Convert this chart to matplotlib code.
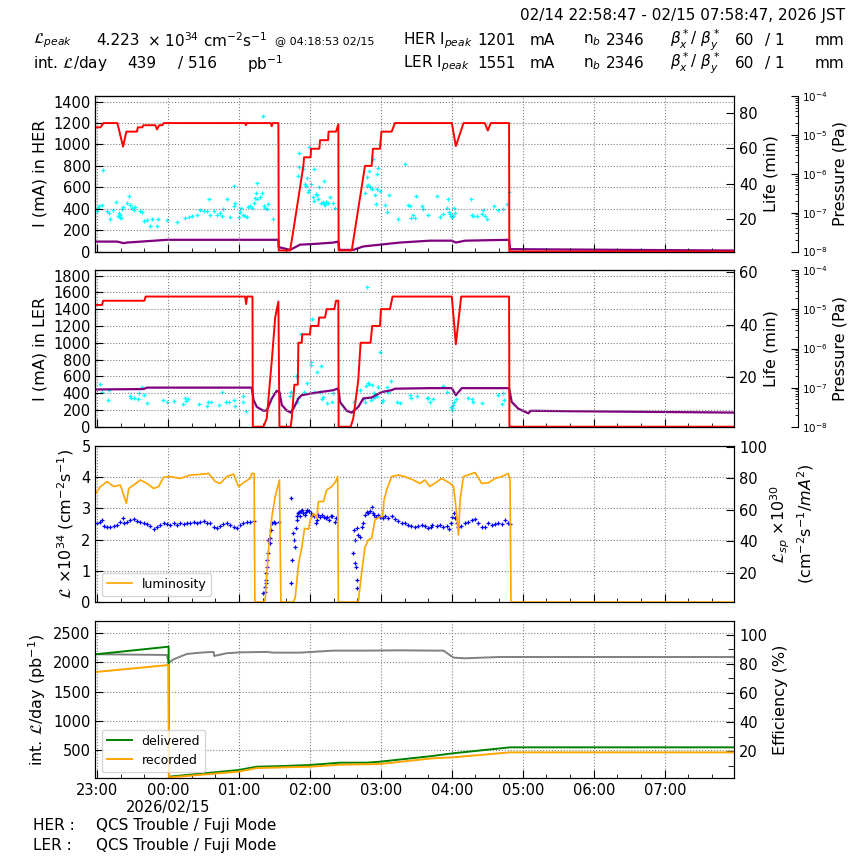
import numpy as np
import matplotlib
matplotlib.use("Agg")
import matplotlib.pyplot as plt
import matplotlib.dates as mdates
from matplotlib.ticker import FuncFormatter, MultipleLocator, LogLocator, NullFormatter

# ============================================================
#   DATA  (time = minutes after 2026-02-14 23:00 JST)
# ============================================================
# HER beam current (mA)
her_t = [-1.2, 3.0, 5.5, 17.3, 22.1, 24.9, 33.9, 34.6, 38.4, 39.2,
         49.4, 50.8, 52.7, 55.3, 56.5, 125.3, 125.9, 126.6, 146.8, 147.8,
         148.5, 153.4, 153.7, 163.3, 166.1, 174.5, 175.1, 180.6, 181.0, 188.0,
         188.6, 195.4, 195.8, 202.1, 204.1, 204.3, 215.4, 218.1, 226.6, 232.2,
         233.3, 239.2, 240.5, 249.1, 251.9, 300.0, 303.4, 309.9, 327.9, 330.4,
         332.9, 348.4, 348.6, 538.8]
her_i = [1160, 1160, 1200, 1200, 980, 1120, 1120, 1160, 1160, 1180,
         1180, 1140, 1180, 1180, 1200, 1200, 1180, 1200, 1200, 1170,
         1200, 1200, 10, 10, 200, 800, 880, 880, 960, 960,
         1040, 1040, 1120, 1120, 1190, 10, 10, 200, 800, 800,
         960, 960, 1120, 1120, 1200, 1200, 985, 1200, 1200, 1130,
         1200, 1200, 0, 0]

# HER pressure (Pa)
her_p_t = [-1.2, 17.0, 22.6, 25.5, 59.2, 153.4, 153.6, 163.3, 171.7, 185.8,
           199.9, 204.1, 204.9, 216.7, 225.2, 239.3, 256.2, 281.5, 300.0, 303.4,
           311.2, 348.4, 349.2, 536.3, 538.8]
her_p = [1.8e-8, 1.8e-8, 1.64e-8, 1.7e-8, 2.0e-8, 2.0e-8, 1.3e-8, 1.1e-8, 1.5e-8, 1.58e-8,
         1.7e-8, 1.8e-8, 1.1e-8, 1.1e-8, 1.35e-8, 1.5e-8, 1.7e-8, 1.9e-8, 1.9e-8, 1.7e-8,
         1.9e-8, 2.0e-8, 1.15e-8, 1.06e-8, 1.06e-8]

# HER lifetime (min)
her_life_t = [0.1, 1.0, 1.8, 4.4, 4.9, 8.6, 10.0, 11.4, 13.6, 16.5,
              17.6, 18.4, 19.3, 19.8, 20.4, 21.2, 22.1, 25.5, 26.9, 28.3,
              29.7, 31.1, 32.5, 36.1, 38.1, 40.1, 42.3, 44.6, 46.6, 50.8,
              51.3, 59.2, 67.7, 74.7, 77.5, 80.3, 84.5, 87.3, 90.2, 93.0,
              94.4, 95.8, 98.6, 101.4, 104.2, 105.6, 107.0, 109.8, 112.1, 115.5,
              116.3, 116.9, 119.7, 121.1, 121.7, 123.9, 125.3, 126.7, 127.3, 129.5,
              130.9, 132.4, 133.8, 134.3, 135.2, 135.7, 138.0, 139.4, 140.2, 141.3,
              142.2, 143.6, 145.0, 148.7,
              169.8, 170.6, 171.2, 174.0, 176.0, 176.8, 177.7, 178.2, 179.6, 179.6,
              181.0, 182.4, 183.3, 183.9, 185.3, 186.1, 186.7, 188.1, 189.5, 190.9,
              191.8, 192.3, 193.2, 193.7, 195.1, 197.4, 199.3, 201.3,
              226.6, 228.0, 228.6, 229.4, 230.3, 230.8, 232.2, 233.6, 235.0, 235.9,
              236.5, 237.0, 237.9, 239.3, 243.5, 244.9, 247.1, 254.7, 260.3, 263.1,
              264.5, 265.1, 267.4, 268.8, 269.6, 274.4, 275.8, 280.0,
              287.3, 290.1, 292.9, 295.8, 296.6, 297.2, 298.6, 299.4, 300.5, 301.4,
              302.2, 302.8, 316.3, 316.9, 318.3, 321.1, 325.3, 326.7, 328.1, 329.5,
              336.0, 339.4, 343.6, 346.4, 348.4]
her_life = [24.3, 26.1, 27.4, 28.0, 47.6, 24.3, 23.1, 20.0, 24.9, 29.8,
            21.8, 23.1, 21.2, 22.5, 20.6, 25.5, 26.8, 29.2, 32.9, 28.0,
            26.1, 24.9, 26.8, 24.3, 23.7, 18.8, 19.4, 16.3, 20.0, 16.3,
            20.0, 19.4, 18.2, 20.6, 21.2, 21.8, 22.5, 24.9, 24.3, 24.3,
            31.0, 22.5, 24.3, 22.5, 23.1, 21.8, 25.5, 31.0, 21.2, 27.4,
            38.4, 29.2, 21.2, 23.7, 26.1, 22.5, 21.8, 21.2, 26.8, 27.4,
            26.1, 29.2, 31.7, 34.7, 31.0, 40.3, 32.3, 34.7, 78.3, 27.4,
            26.1, 25.5, 28.6, 20.0,
            44.5, 57.4, 49.5, 48.2, 39.6, 38.4, 43.3, 35.3, 60.5, 36.6,
            39.6, 32.3, 48.2, 30.4, 34.1, 33.5, 31.0, 37.8, 29.2, 29.8,
            41.5, 28.6, 28.0, 29.8, 29.2, 32.3, 29.2, 26.1,
            34.7, 43.9, 38.4, 39.0, 47.0, 37.8, 37.2, 53.7, 33.5, 28.6,
            45.2, 37.2, 48.8, 36.0, 28.0, 23.7, 33.5, 20.0, 51.3, 28.0,
            27.4, 20.6, 22.5, 20.6, 32.9, 27.4, 25.5, 22.5,
            32.8, 21.1, 23.0, 26.2, 31.2, 23.7, 23.0, 21.4, 21.1, 21.9,
            26.0, 23.3, 31.2, 22.4, 21.9, 21.9, 23.0, 25.2, 21.9, 20.0,
            27.1, 25.2, 25.8, 28.4, 35.2]

# LER beam current (mA)
ler_t = [-1.2, 4.4, 5.2, 40.1, 41.2, 125.3, 126.1, 127.0, 131.5, 131.8,
         140.8, 143.6, 147.9, 150.7, 153.4, 154.3, 163.8, 164.7, 166.9, 169.8,
         170.3, 173.1, 173.6, 180.1, 180.7, 187.2, 187.8, 192.8, 194.2, 200.7,
         202.1, 204.1, 204.3, 214.5, 216.7, 220.9, 222.9, 231.3, 232.7, 239.3,
         240.1, 247.7, 249.9, 300.0, 303.4, 307.9, 348.4, 348.7, 538.8]
ler_i = [1450, 1450, 1500, 1500, 1550, 1550, 1460, 1550, 1550, 0,
         0, 100, 800, 1300, 1490, 0, 0, 100, 500, 500,
         1000, 1000, 1100, 1100, 1200, 1200, 1300, 1300, 1400, 1400,
         1500, 1500, 0, 0, 100, 550, 1000, 1000, 1200, 1200,
         1400, 1400, 1550, 1550, 982, 1550, 1550, 0, 0]

# LER pressure (Pa)
ler_p_t = [-1.2, 39.5, 42.3, 130.9, 132.4, 135.2, 140.8, 143.6, 147.9, 152.0,
           154.3, 156.3, 160.5, 163.8, 166.1, 170.3, 173.1, 180.1, 188.6, 199.9,
           203.2, 204.3, 205.5, 211.1, 215.3, 220.9, 225.2, 232.2, 240.7, 249.1,
           252.0, 281.5, 300.0, 303.4, 308.4, 348.4, 350.6, 356.2, 364.7, 366.6,
           395.6, 538.8]
ler_p = [8.97e-8, 9.2e-8, 1.0e-7, 1.0e-7, 4.8e-8, 3.2e-8, 2.56e-8, 2.6e-8, 5.3e-8, 8.3e-8,
         7.7e-8, 3.6e-8, 2.6e-8, 2.3e-8, 2.9e-8, 5.3e-8, 6.4e-8, 7.0e-8, 7.7e-8, 8.6e-8,
         9.4e-8, 8.6e-8, 4.3e-8, 2.56e-8, 2.3e-8, 3.2e-8, 5.3e-8, 5.6e-8, 7.7e-8, 8.6e-8,
         9.4e-8, 9.7e-8, 9.7e-8, 6.4e-8, 9.7e-8, 9.7e-8, 4.3e-8, 2.9e-8, 2.2e-8, 2.56e-8,
         2.5e-8, 2.3e-8]

# LER lifetime (min)
ler_life_t = [3.0, 4.4, 9.1, 10.0, 27.7, 28.8, 31.1, 34.5, 35.3, 38.1,
              39.5, 42.3, 55.8, 59.2, 65.4, 72.7, 74.1, 75.2, 76.6, 85.9,
              93.0, 93.8, 96.4, 102.8, 105.6, 109.3, 111.3, 116.0, 116.9, 123.3,
              123.9, 126.1,
              162.9, 163.8, 164.3, 168.0, 168.8, 170.0, 172.2, 172.8, 175.0, 177.8,
              180.7, 181.2, 182.1, 183.5, 185.8, 188.6, 189.7, 190.6, 191.1, 194.8,
              199.0, 199.9,
              217.3, 222.4, 225.2, 226.6, 227.4, 228.0, 229.4, 230.3, 231.4, 232.2,
              233.1, 234.2, 235.0, 236.5, 237.9, 239.3, 240.7, 242.1, 244.9, 246.3,
              248.3, 253.3, 256.2, 264.6, 265.1, 270.2, 278.6, 280.0, 281.4,
              284.5, 292.9, 295.8, 299.4, 300.0, 300.5, 301.4, 302.2, 303.4, 314.0,
              316.9, 318.3, 325.3, 339.4, 342.2, 343.6, 344.4]
ler_life = [17.2, 14.3, 11.1, 15.0, 12.7, 11.7, 11.7, 11.4, 13.7, 15.9,
            13.0, 9.8, 11.1, 10.1, 10.8, 9.5, 11.7, 10.8, 11.4, 9.5,
            8.8, 10.1, 10.4, 9.2, 14.0, 10.4, 10.1, 11.1, 8.8, 12.7,
            10.1, 6.9,
            12.4, 14.0, 14.3, 20.1, 10.4, 11.7, 36.2, 36.5, 14.0, 17.5,
            25.6, 24.3, 42.3, 14.3, 21.7, 14.3, 24.0, 11.4, 12.1, 9.8,
            10.4, 13.7,
            10.4, 15.0, 11.4, 10.1, 16.6, 54.5, 17.5, 17.2, 11.1, 16.9,
            11.7, 13.7, 12.1, 12.7, 15.9, 29.4, 10.1, 11.1, 15.9, 14.0,
            18.2, 10.4, 9.8, 13.0, 11.7, 12.7, 11.7, 11.7, 10.1,
            11.3, 16.4, 14.3, 8.5, 7.2, 7.9, 9.2, 10.4, 11.3, 12.0,
            11.6, 10.4, 9.8, 13.0, 9.6, 13.6, 11.1]

# luminosity (x1e34 cm^-2 s^-1)
lum_t = [-1.2, 3.0, 8.6, 14.2, 19.8, 22.6, 24.9, 26.9, 31.1, 36.7,
         42.3, 48.0, 52.2, 56.4, 62.0, 70.5, 78.9, 87.3, 94.4, 100.0,
         104.2, 109.8, 115.5, 119.7, 125.3, 129.5, 130.9, 132.9, 133.5, 140.8,
         142.2, 145.0, 147.9, 150.7, 154.3, 155.5, 166.3, 167.7, 170.5, 173.3,
         175.5, 178.9, 180.3, 183.1, 185.9, 187.2, 191.5, 194.2, 198.5, 201.8,
         203.5, 204.1, 220.9, 223.7, 226.6, 229.4, 232.2, 235.0, 239.3, 241.5,
         242.7, 244.9, 249.1, 254.7, 260.3, 267.4, 273.0, 277.2, 281.4, 291.5,
         298.6, 301.4, 303.4, 305.6, 307.0, 309.8, 319.7, 325.3, 330.9, 336.5,
         342.2, 347.8, 349.2, 350.0, 538.8]
lum = [3.48, 3.7, 3.86, 3.7, 3.75, 3.43, 3.16, 3.64, 3.75, 3.91,
       3.8, 3.64, 3.7, 4.0, 4.02, 3.96, 4.07, 4.09, 4.12, 3.86,
       3.8, 4.02, 4.1, 3.7, 3.86, 3.96, 4.12, 4.12, 0, 0,
       0.06, 1.67, 2.74, 3.38, 3.91, 0, 0, 0.17, 1.24, 1.77,
       2.36, 2.33, 2.63, 2.84, 2.68, 3.22, 3.22, 3.59, 3.7, 3.86,
       4.02, 0, 0, 0.92, 1.77, 1.99, 2.04, 2.63, 2.74, 2.74,
       3.27, 3.59, 4.02, 4.07, 4.02, 3.91, 3.8, 3.91, 3.7, 3.96,
       3.8, 3.7, 3.06, 2.15, 3.27, 4.02, 4.15, 3.8, 3.82, 3.96,
       4.02, 4.12, 3.91, 0, 0]

# specific luminosity (x1e30 cm^-2 s^-1 / mA^2)
lsp_t = [0.1, 3.0, 4.4, 5.8, 8.6, 11.4, 14.2, 17.0, 19.8, 22.1,
         23.2, 25.5, 28.3, 31.1, 33.9, 36.7, 39.5, 42.3, 45.2, 48.0,
         50.8, 53.6, 56.4, 59.2, 62.0, 64.8, 67.7, 70.5, 73.3, 76.1,
         78.9, 81.7, 84.5, 87.3, 90.2, 93.0, 95.8, 98.6, 101.4, 104.2,
         107.0, 109.8, 112.6, 115.5, 118.3, 121.1, 123.9, 126.7, 129.5, 132.4,
         140.8, 142.2, 142.2, 142.8, 143.0, 143.0, 143.6, 143.6, 144.2, 145.0,
         145.9, 146.4, 147.3, 147.9, 149.3, 150.7, 153.5,
         163.8, 163.8, 165.2, 166.1, 166.7, 167.5, 168.1, 168.9, 169.5, 170.3,
         170.9, 171.8, 172.9, 173.7, 174.6, 175.7, 176.5, 178.0, 179.4, 180.8,
         182.2, 183.6, 185.0, 185.8, 186.9, 188.6, 190.6, 192.0, 193.4, 194.8,
         196.2, 197.6, 199.0, 201.0, 201.8,
         216.7, 217.3, 218.1, 218.1, 219.0, 219.6, 219.6, 220.1, 221.0, 222.4,
         223.8, 225.2, 226.6, 228.0, 229.4, 230.8, 232.2, 233.1, 234.2, 235.9,
         237.9, 239.3, 241.5, 243.5, 246.3, 249.1, 251.9, 254.7, 257.5, 260.3,
         263.1, 265.9, 268.8, 271.6, 274.4, 277.2, 280.0, 282.8,
         283.1, 287.3, 290.1, 292.9, 295.8, 297.7, 299.4, 300.5, 301.7, 302.8,
         304.2, 305.6, 307.9, 311.2, 314.0, 316.9, 319.7, 322.5, 325.3, 328.1,
         330.9, 333.7, 336.5, 339.4, 342.2, 345.0, 347.8, 349.2]
lsp = [51.3, 52.3, 53.5, 49.7, 48.7, 48.7, 49.7, 50.3, 52.3, 54.5,
       51.3, 52.3, 53.5, 53.9, 52.9, 52.3, 51.7, 50.9, 49.7, 47.5,
       48.7, 50.3, 51.7, 50.9, 50.3, 51.3, 50.3, 51.3, 50.9, 51.7,
       51.3, 52.1, 51.3, 52.3, 52.9, 51.7, 51.3, 49.1, 48.1, 49.7,
       50.9, 51.3, 50.3, 48.7, 48.1, 50.3, 51.3, 52.3, 52.3, 52.9,
       7.0, 7.9, 11.1, 15.3, 13.3, 19.6, 23.8, 28.1, 32.3, 40.8,
       38.6, 41.8, 47.1, 51.3, 52.3, 51.7, 52.3,
       67.1, 13.3, 28.1, 45.0, 40.8, 36.4, 48.1, 53.5, 55.7, 57.6,
       58.8, 55.7, 59.4, 59.8, 57.6, 56.6, 58.8, 59.8, 59.4, 58.0,
       56.6, 55.7, 51.3, 53.5, 56.6, 55.1, 56.6, 55.1, 54.5, 55.1,
       53.5, 55.7, 56.0, 52.3, 54.5,
       32.3, 47.1, 26.0, 40.8, 23.8, 15.3, 48.1, 10.1, 44.0, 42.8,
       49.1, 51.7, 56.6, 58.8, 57.6, 59.4, 62.0, 57.6, 56.6, 55.1,
       56.6, 55.1, 54.5, 55.7, 54.5, 55.7, 53.9, 52.9, 51.7, 51.3,
       50.3, 49.7, 48.7, 49.7, 50.3, 49.7, 48.1, 48.7,
       50.3, 49.7, 50.3, 48.7, 49.7, 47.5, 51.7, 55.1, 57.6, 54.5,
       51.3, 49.1, 49.7, 51.7, 52.3, 53.5, 53.9, 51.7, 48.7, 48.7,
       51.7, 50.3, 50.9, 51.7, 50.9, 53.5, 51.7, 50.9]

# integrated luminosity per day (pb^-1) and efficiency (%)
deliv_t = [-1.2, 60.6, 61.0, 119.7, 135.2, 157.7, 180.1, 205.5, 228.0, 239.3, 283.2, 300.5, 349.2, 538.8]
deliv = [2140, 2271, 43, 157, 214, 226, 243, 283, 283, 300, 397, 443, 546, 546]
rec_t = [-1.2, 60.6, 61.0, 119.7, 135.2, 180.1, 205.5, 239.3, 283.2, 300.5, 349.2, 538.8]
rec = [1837, 1957, 31, 129, 191, 214, 249, 260, 357, 374, 460, 460]
eff_t = [-1.2, 59.2, 60.6, 62.0, 64.8, 70.5, 76.1, 87.3, 98.6, 99.1, 109.8, 121.1,
         143.6, 149.3, 171.7, 199.9, 228.0, 256.2, 283.2, 292.9, 301.4, 311.2, 339.4, 538.8]
eff = [86.7, 86.2, 80.5, 81.6, 83.2, 85.1, 86.9, 87.8, 88.3, 85.5, 87.4, 88.0,
       88.3, 87.8, 87.8, 89.2, 89.2, 89.4, 89.2, 89.2, 84.4, 83.9, 84.8, 84.8]

base = np.datetime64("2026-02-14T23:00:00")
t_start = np.datetime64("2026-02-14T22:58:47")
t_end = np.datetime64("2026-02-15T07:58:47")


def at(mins):
    secs = np.round(np.asarray(mins, dtype=float) * 60).astype(int)
    return base + secs.astype("timedelta64[s]")


def time_label(x, pos):
    d = mdates.num2date(x)
    s = d.strftime("%H:%M")
    if d.hour == 0 and d.minute == 0:
        s += "\n2026/02/15"
    return s


# ============================================================
#   FIGURE
# ============================================================
fig = plt.figure(figsize=(8.64, 8.64), dpi=100)
L, W = 0.1105, 0.7394
panels = [(0.7089, 0.1800), (0.5061, 0.1810), (0.3032, 0.1806), (0.0995, 0.1814)]
axes = [fig.add_axes([L, b, W, h]) for b, h in panels]

TL = 10.5


def style(ax, bottom_labels=False):
    ax.set_xlim(t_start, t_end)
    ax.xaxis.set_major_locator(mdates.HourLocator())
    ax.xaxis.set_minor_locator(mdates.MinuteLocator(byminute=[20, 40]))
    ax.xaxis.set_major_formatter(FuncFormatter(time_label))
    ax.tick_params(which="both", direction="in", labelsize=TL)
    ax.tick_params(which="major", length=6)
    ax.tick_params(which="minor", length=3)
    ax.grid(True, which="major", linestyle=":", color="gray", linewidth=0.8)
    if not bottom_labels:
        ax.tick_params(axis="x", labelbottom=False)


def life_axis(ax, ylim, ticks):
    axr = ax.twinx()
    axr.set_ylim(*ylim)
    axr.set_yticks(ticks)
    axr.tick_params(direction="in", labelsize=TL, length=6)
    axr.set_ylabel("Life (min)", fontsize=11.5)
    return axr


def pressure_axis(ax):
    axp = ax.twinx()
    # outward offset is in points: 46 pt ~ 64 px at 100 dpi
    axp.spines["right"].set_position(("outward", 46))
    axp.set_yscale("log")
    axp.set_ylim(1e-8, 1e-4)
    axp.yaxis.set_major_locator(LogLocator(base=10, numticks=10))
    axp.yaxis.set_minor_locator(LogLocator(base=10, subs=np.arange(2, 10), numticks=10))
    axp.yaxis.set_minor_formatter(NullFormatter())
    axp.tick_params(which="both", direction="in", labelsize=7.5, pad=3)
    axp.tick_params(which="major", length=5)
    axp.tick_params(which="minor", length=2.5)
    axp.set_ylabel("Pressure (Pa)", fontsize=11.5, labelpad=3)
    return axp


# ---------- HER ----------
ax = axes[0]
style(ax)
ax.set_ylim(0, 1453)
ax.set_yticks(range(0, 1401, 200))
ax.set_ylabel("I (mA) in HER", fontsize=11.5)
axl = life_axis(ax, (1.6, 89.5), [20, 40, 60, 80])
axp = pressure_axis(ax)
axl.plot(at(her_life_t), her_life, "+", color="cyan", ms=3.2, mew=0.9)
axp.plot(at(her_p_t), her_p, color="purple", lw=1.6)
ax.set_zorder(axl.get_zorder() + 2)
ax.patch.set_visible(False)
ax.plot(at(her_t), her_i, color="red", lw=1.4)

# ---------- LER ----------
ax = axes[1]
style(ax)
ax.set_ylim(0, 1862)
ax.set_yticks(range(0, 1801, 200))
ax.set_ylabel("I (mA) in LER", fontsize=11.5)
axl = life_axis(ax, (0.8, 60.8), [20, 40, 60])
axp = pressure_axis(ax)
axl.plot(at(ler_life_t), ler_life, "+", color="cyan", ms=3.2, mew=0.9)
axp.plot(at(ler_p_t), ler_p, color="purple", lw=1.6)
ax.set_zorder(axl.get_zorder() + 2)
ax.patch.set_visible(False)
ax.plot(at(ler_t), ler_i, color="red", lw=1.4)

# ---------- Luminosity ----------
ax = axes[2]
style(ax)
ax.set_ylim(0, 5)
ax.set_yticks(range(0, 6))
ax.set_ylabel(r"$\mathcal{L}$ $\times10^{34}$ (cm$^{-2}$s$^{-1}$)", fontsize=11.5)
axs = ax.twinx()
axs.set_ylim(1.4, 100.4)
axs.set_yticks([20, 40, 60, 80, 100])
axs.tick_params(direction="in", labelsize=TL, length=6)
axs.set_ylabel(r"$\mathcal{L}_{sp}$ $\times10^{30}$" + "\n" + r"(cm$^{-2}$s$^{-1}$/$mA^{2}$)",
               fontsize=11.5, labelpad=1)
axs.plot(at(lsp_t), lsp, "+", color="blue", ms=3, mew=0.9)
ax.set_zorder(axs.get_zorder() + 2)
ax.patch.set_visible(False)
ax.plot(at(lum_t), lum, color="orange", lw=1.2, label="luminosity")
ax.legend(loc="lower left", fontsize=9)

# ---------- Integrated luminosity ----------
ax = axes[3]
style(ax, bottom_labels=True)
ax.set_ylim(20, 2706)
ax.set_yticks([500, 1000, 1500, 2000, 2500])
ax.set_ylabel(r"int. $\mathcal{L}$/day (pb$^{-1}$)", fontsize=11.5)
axe = ax.twinx()
axe.set_ylim(1.4, 109.4)
axe.set_yticks([20, 40, 60, 80, 100])
axe.yaxis.set_minor_locator(MultipleLocator(10))
axe.tick_params(which="both", direction="in", labelsize=TL)
axe.tick_params(which="major", length=6)
axe.tick_params(which="minor", length=4)
axe.set_ylabel("Efficiency (%)", fontsize=11.5)
axe.plot(at(eff_t), eff, color="gray", lw=1.4)
ax.set_zorder(axe.get_zorder() + 2)
ax.patch.set_visible(False)
ax.plot(at(deliv_t), deliv, color="green", lw=1.4, label="delivered")
ax.plot(at(rec_t), rec, color="orange", lw=1.4, label="recorded")
ax.legend(loc="lower left", fontsize=9)

# ============================================================
#   HEADER / FOOTER TEXT
# ============================================================
FS = 11
fig.text(0.978, 0.982, "02/14 22:58:47 - 02/15 07:58:47, 2026 JST", ha="right", va="center", fontsize=FS)

y1, y2 = 0.953, 0.926
fig.text(0.038, y1, r"$\mathcal{L}_{peak}$", va="center", fontsize=FS)
fig.text(0.111, y1, "4.223", va="center", fontsize=FS)
fig.text(0.170, y1, r"$\times$ 10$^{34}$ cm$^{-2}$s$^{-1}$", va="center", fontsize=FS)
fig.text(0.318, y1, "@ 04:18:53 02/15", va="center", fontsize=8)
fig.text(0.038, y2, r"int. $\mathcal{L}$/day", va="center", fontsize=FS)
fig.text(0.147, y2, "439", va="center", fontsize=FS)
fig.text(0.206, y2, "/ 516", va="center", fontsize=FS)
fig.text(0.286, y2, r"pb$^{-1}$", va="center", fontsize=FS)

for y, ring, cur in [(y1, "HER", "1201"), (y2, "LER", "1551")]:
    fig.text(0.466, y, ring + r" I$_{peak}$", va="center", fontsize=FS)
    fig.text(0.553, y, cur, va="center", fontsize=FS)
    fig.text(0.613, y, "mA", va="center", fontsize=FS)
    fig.text(0.675, y, r"n$_b$", va="center", fontsize=FS)
    fig.text(0.701, y, "2346", va="center", fontsize=FS)
    fig.text(0.775, y, r"$\beta^*_x$/ $\beta^*_y$", va="center", fontsize=FS)
    fig.text(0.851, y, "60", va="center", fontsize=FS)
    fig.text(0.885, y, "/ 1", va="center", fontsize=FS)
    fig.text(0.943, y, "mm", va="center", fontsize=FS)

fig.text(0.038, 0.044, "HER :", va="center", fontsize=FS)
fig.text(0.111, 0.044, "QCS Trouble / Fuji Mode", va="center", fontsize=FS)
fig.text(0.038, 0.021, "LER :", va="center", fontsize=FS)
fig.text(0.111, 0.021, "QCS Trouble / Fuji Mode", va="center", fontsize=FS)

fig.savefig("out.png", dpi=100)
